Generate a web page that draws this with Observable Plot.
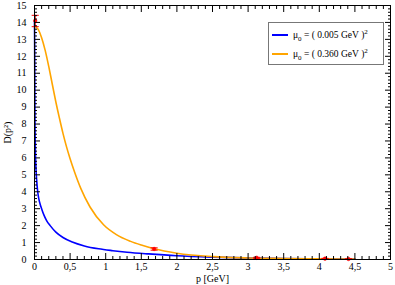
<!DOCTYPE html>
<html>
<head>
<meta charset="utf-8">
<script src="https://cdn.jsdelivr.net/npm/d3@7"></script>
<script src="https://cdn.jsdelivr.net/npm/@observablehq/plot@0.6"></script>
<style>
  html, body { margin: 0; padding: 0; background: #fff; }
  #wrap { position: relative; width: 395px; height: 285px; font-family: "Liberation Serif", serif; }
  #legend { position: absolute; left: 268px; top: 22px; width: 114px; height: 41px; border: 1px solid #777; background: #fff; font-size: 9.5px; }
  .row { position: absolute; left: 0; height: 14px; line-height: 14px; white-space: nowrap; }
  .sw { position: absolute; left: 3px; top: 6px; width: 16px; height: 2px; }
  .lt { position: absolute; left: 24px; top: 0; }
  sub, sup { font-size: 7px; line-height: 0; }
</style>
</head>
<body>
<div id="wrap"></div>
<script>
// Series
const seriesNames = ["μ0 = (0.005 GeV)^2", "μ0 = (0.360 GeV)^2"];
const seriesColors = ["#0000ff", "#ffa500"];

const pBlue = [0, 0.002, 0.004, 0.006, 0.01, 0.015, 0.02, 0.03, 0.045, 0.06, 0.08, 0.1, 0.13, 0.17, 0.22, 0.3, 0.4, 0.53, 0.7, 0.9, 1.1, 1.3, 1.6, 2.0, 2.5, 3.0, 3.5, 4.0, 4.5];
const dBlue = [14.1, 12.8, 10.5, 8.6, 7.0, 6.0, 5.4, 4.7, 4.0, 3.6, 3.25, 3.0, 2.65, 2.3, 2.0, 1.62, 1.3, 1.03, 0.8, 0.63, 0.52, 0.43, 0.33, 0.22, 0.14, 0.09, 0.06, 0.04, 0.03];

const pOrange = [0, 0.05, 0.1, 0.15, 0.2, 0.25, 0.3, 0.35, 0.4, 0.45, 0.5, 0.56, 0.65, 0.78, 0.97, 1.15, 1.35, 1.5, 1.68, 2.0, 2.5, 3.0, 3.5, 4.0, 4.5];
const dOrange = [13.8, 13.6, 13.1, 12.35, 11.4, 10.35, 9.3, 8.35, 7.45, 6.65, 5.95, 5.2, 4.2, 3.1, 2.05, 1.47, 1.07, 0.85, 0.63, 0.37, 0.17, 0.09, 0.06, 0.04, 0.03];

// Lattice points with error bars
const pData = [0.01, 1.68, 3.12, 4.08, 4.41];
const dData = [14.1, 0.62, 0.1, 0.05, 0.03];
const dLow  = [13.75, 0.55, 0.07, 0.03, 0.015];
const dHigh = [14.42, 0.69, 0.13, 0.07, 0.045];

const xMajor = [0, 0.5, 1, 1.5, 2, 2.5, 3, 3.5, 4, 4.5, 5];
const xMinor = d3.range(0, 51).map(i => i / 10).filter(v => !xMajor.some(m => Math.abs(m - v) < 1e-9));
const yMajor = d3.range(0, 16);
const yMinor = d3.range(0, 76).map(i => i / 5).filter(v => Math.abs(v - Math.round(v)) > 1e-9);

const curves = [
  ...pBlue.map((p, i) => ({p, d: dBlue[i], s: seriesNames[0]})),
  ...pOrange.map((p, i) => ({p, d: dOrange[i], s: seriesNames[1]}))
];
const points = pData.map((p, i) => ({p, d: dData[i], lo: dLow[i], hi: dHigh[i]}));

const fmt = v => String(v).replace(".", ",");
const capSymbol = { draw(ctx, size) { const w = Math.sqrt(size) / 2; ctx.moveTo(-w, 0); ctx.lineTo(w, 0); } };

const chart = Plot.plot({
  width: 395,
  height: 285,
  marginLeft: 34,
  marginRight: 5,
  marginTop: 5,
  marginBottom: 26,
  style: { fontFamily: "'Liberation Serif', serif", fontSize: "10px", background: "#fff", color: "#000" },
  x: { domain: [0, 5] },
  y: { domain: [0, 15] },
  color: { domain: seriesNames, range: seriesColors },
  marks: [
    Plot.line(curves, { x: "p", y: "d", z: "s", stroke: "s", strokeWidth: 1.6, curve: "monotone-x" }),
    Plot.ruleX(points, { x: "p", y1: "lo", y2: "hi", stroke: "#ff0000", strokeWidth: 1 }),
    Plot.dot(points, { x: "p", y: "lo", symbol: capSymbol, r: 4, stroke: "#ff0000", strokeWidth: 1 }),
    Plot.dot(points, { x: "p", y: "hi", symbol: capSymbol, r: 4, stroke: "#ff0000", strokeWidth: 1 }),
    Plot.dot(points, { x: "p", y: "d", r: 1.8, fill: "#ff0000", stroke: "#ff0000", strokeWidth: 0.5 }),
    Plot.frame({ stroke: "#000", strokeWidth: 1 }),
    Plot.axisX({ anchor: "bottom", ticks: xMajor, tickSize: -6, text: null, label: null }),
    Plot.axisX({ anchor: "bottom", ticks: xMinor, tickSize: -3, text: null, label: null }),
    Plot.axisX({ anchor: "top", ticks: xMajor, tickSize: -6, text: null, label: null }),
    Plot.axisX({ anchor: "top", ticks: xMinor, tickSize: -3, text: null, label: null }),
    Plot.axisY({ anchor: "left", ticks: yMajor, tickSize: -6, text: null, label: null }),
    Plot.axisY({ anchor: "left", ticks: yMinor, tickSize: -3, text: null, label: null }),
    Plot.axisY({ anchor: "right", ticks: yMajor, tickSize: -6, text: null, label: null }),
    Plot.axisY({ anchor: "right", ticks: yMinor, tickSize: -3, text: null, label: null }),
    Plot.axisX({ anchor: "bottom", ticks: xMajor, tickSize: 0, tickPadding: 3, tickFormat: fmt, fontSize: 10,
      label: "p [GeV]", labelAnchor: "center", labelArrow: "none", labelOffset: 22 }),
    Plot.axisY({ anchor: "left", ticks: yMajor, tickSize: 0, tickPadding: 8, tickFormat: d => String(d), fontSize: 10,
      label: "D(p²)", labelAnchor: "center", labelArrow: "none", labelOffset: 31 })
  ]
});

const wrap = document.getElementById("wrap");
wrap.appendChild(chart);

const legend = document.createElement("div");
legend.id = "legend";
const labelsHtml = ["μ<sub>0</sub> = ( 0.005 GeV )<sup>2</sup>", "μ<sub>0</sub> = ( 0.360 GeV )<sup>2</sup>"];
labelsHtml.forEach((html, i) => {
  const row = document.createElement("div");
  row.className = "row";
  row.style.top = (5 + i * 19) + "px";
  row.innerHTML = `<span class="sw" style="background:${seriesColors[i]}"></span><span class="lt">${html}</span>`;
  legend.appendChild(row);
});
wrap.appendChild(legend);
</script>
</body>
</html>
